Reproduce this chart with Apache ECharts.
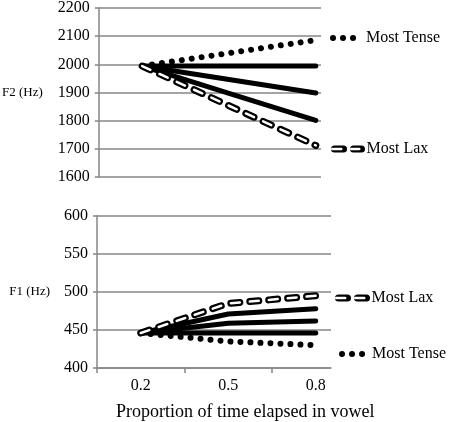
<!DOCTYPE html>
<html><head><meta charset="utf-8">
<script src="https://cdn.jsdelivr.net/npm/echarts@6/dist/echarts.min.js"></script>
<style>html,body{margin:0;padding:0;background:#fff}#c{width:450px;height:422px}</style>
</head><body><div id="c"></div>
<script>
// ---- data ----
const xValues = [0.2, 0.5, 0.8];
const xTickLabelValues = [0.2, 0.5, 0.8];
const xTickMarks = [0.05, 0.35, 0.65];
const xAxisTitle = 'Proportion of time elapsed in vowel';
// F2 (top panel)
const f2MostTense = [1994, 2040, 2086];
const f2Flat      = [1994, 1994, 1994];
const f2Mid1      = [1994, 1946, 1898];
const f2Mid2      = [1994, 1897, 1801];
const f2MostLax   = [1994, 1853, 1712];
// F1 (bottom panel)
const f1MostLax   = [446, 485, 495];
const f1Mid1      = [446, 471, 478];
const f1Mid2      = [446, 459, 462];
const f1Flat      = [446, 446, 446];
const f1MostTense = [446, 435, 430];
// axis ranges
const f2Range = [1600, 2200, 100];
const f1Range = [400, 600, 50];

// ---- chart ----
const FONT = 'Liberation Serif';
const GRID = '#868686';
const pxPerUnit = 291.67;
const xMin = 0.05;
const topW = 224, botW = 234;

function pts(arr){ return xValues.map((x,i)=>[x, arr[i]]); }

function base(name, arr, idx){
  return {type:'line', name, xAxisIndex:idx, yAxisIndex:idx, data:pts(arr), symbol:'none', silent:true,
    itemStyle:{color:'#000'}};
}
function solid(name, arr, idx){
  return Object.assign(base(name, arr, idx), {lineStyle:{color:'#000', width:5, cap:'round', join:'round'}, z:3});
}
function dotted(name, arr, idx){
  return Object.assign(base(name, arr, idx), {lineStyle:{color:'#000', width:6, type:[0.01, 10], cap:'round'}, z:4});
}
function dashOuter(name, arr, idx){
  return Object.assign(base(name, arr, idx), {lineStyle:{color:'#000', width:7, type:[9, 10], cap:'round'}, z:5});
}
function dashInner(name, arr, idx){
  return Object.assign(base(name, arr, idx), {itemStyle:{color:'#fff'}, lineStyle:{color:'#fff', width:2.5, type:[9, 10], cap:'round'}, z:6});
}

const richLabel = {t:{fontFamily:FONT, fontSize:16, color:'#000'}};

function yAxis(idx, r, nameText, nameGap, pad){
  return {type:'value', gridIndex:idx, min:r[0], max:r[1], interval:r[2],
    name:nameText, nameLocation:'middle', nameRotate:0, nameGap:nameGap,
    nameTextStyle:{fontFamily:FONT, fontSize:13, color:'#000', padding:pad},
    axisLine:{show:true, lineStyle:{color:GRID, width:1.5}},
    axisTick:{show:true, length:4, lineStyle:{color:GRID, width:1.5}},
    axisLabel:{fontFamily:FONT, fontSize:16, color:'#000', margin:9,
      formatter:v=>'{t|' + String(v) + '}', rich:richLabel},
    splitLine:{show:true, lineStyle:{color:GRID, width:1.5}}};
}

function legendItem(name, left, top, w, lw, textColor, z){
  return {data:[name], left, top, padding:0, itemWidth:w, itemHeight:14, selectedMode:false,
    itemStyle:{opacity:0, borderWidth:0},
    textStyle:{fontFamily:FONT, fontSize:16, color:textColor}, lineStyle:{width:lw}, z:z||4};
}

const option = {
  animation:false,
  backgroundColor:'#fff',
  textStyle:{fontFamily:FONT},
  title:{text:xAxisTitle, left:116, top:403, padding:0,
    textStyle:{fontFamily:FONT, fontSize:18, fontWeight:'normal', color:'#000'}},
  grid:[
    {left:97, top:5, width:topW, height:172},
    {left:97, top:216, width:botW, height:152}
  ],
  xAxis:[
    {type:'value', gridIndex:0, min:xMin, max:xMin+topW/pxPerUnit,
      axisLine:{show:false}, axisTick:{show:false}, axisLabel:{show:false}, splitLine:{show:false}},
    {type:'value', gridIndex:1, min:xMin, max:xMin+botW/pxPerUnit,
      axisLine:{show:true, onZero:false, lineStyle:{color:GRID, width:1.5}},
      axisTick:{show:true, length:5, customValues:xTickMarks, lineStyle:{color:GRID, width:1.5}},
      axisLabel:{show:true, customValues:xTickLabelValues, fontFamily:FONT, fontSize:16, color:'#000', margin:10,
        formatter:v=>'{t|' + v.toFixed(1) + '}', rich:richLabel},
      splitLine:{show:false}}
  ],
  yAxis:[
    yAxis(0, f2Range, 'F2 (Hz)', 56, [0,0,0,0]),
    yAxis(1, f1Range, 'F1 (Hz)', 47, [10,0,0,0])
  ],
  legend:[
    legendItem('Most Tense', 330, 30, 28, 6, '#000'),
    legendItem('Most Lax', 331, 141, 27, 7, '#000'),
    legendItem('Most Lax\u200b', 331, 141, 27, 2.5, 'rgba(0,0,0,0)', 6),
    legendItem('Most Lax ', 335, 290, 28, 7, '#000'),
    legendItem('Most Lax \u200b', 335, 290, 28, 2.5, 'rgba(0,0,0,0)', 6),
    legendItem('Most Tense ', 339, 346, 25, 6, '#000')
  ],
  series:[
    solid('F2 a', f2Flat, 0),
    solid('F2 b', f2Mid1, 0),
    solid('F2 c', f2Mid2, 0),
    dotted('Most Tense', f2MostTense, 0),
    dashOuter('Most Lax', f2MostLax, 0),
    dashInner('Most Lax\u200b', f2MostLax, 0),
    solid('F1 a', f1Flat, 1),
    solid('F1 b', f1Mid2, 1),
    solid('F1 c', f1Mid1, 1),
    dotted('Most Tense ', f1MostTense, 1),
    dashOuter('Most Lax ', f1MostLax, 1),
    dashInner('Most Lax \u200b', f1MostLax, 1)
  ]
};
const chart = echarts.init(document.getElementById('c'), null, {renderer:'canvas'});
chart.setOption(option);
</script>
</body></html>
